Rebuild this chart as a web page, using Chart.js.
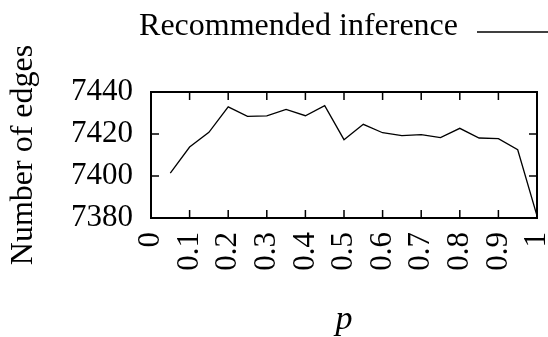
<!DOCTYPE html>
<html lang="en">
<head>
    <meta charset="UTF-8">
    <title>Recommended inference - edges vs p</title>
    <script src="https://cdn.jsdelivr.net/npm/chart.js"></script>
    <style>
        body {
            margin: 0;
            padding: 0;
            background-color: #fff;
        }
        #chartBox {
            width: 548px;
            height: 337px;
        }
    </style>
</head>
<body>
    <div id="chartBox">
        <canvas id="edgesChart" width="548" height="337"></canvas>
    </div>

    <script>
        // values
        const pValues = [0.05, 0.1, 0.15, 0.2, 0.25, 0.3, 0.35, 0.4, 0.45, 0.5,
                         0.55, 0.6, 0.65, 0.7, 0.75, 0.8, 0.85, 0.9, 0.95, 1.0];
        const edgeCounts = [7401.4, 7413.8, 7420.8, 7432.9, 7428.4, 7428.6, 7431.7, 7428.7, 7433.5, 7417.3,
                            7424.6, 7420.6, 7419.2, 7419.7, 7418.3, 7422.7, 7418.1, 7417.8, 7412.5, 7381];
        const xTickLabels = ['0', '0.1', '0.2', '0.3', '0.4', '0.5', '0.6', '0.7', '0.8', '0.9', '1'];
        const yTickLabels = ['7380', '7400', '7420', '7440'];
        const seriesName = 'Recommended inference';

        const serif = "'Liberation Serif', 'DejaVu Serif', serif";

        // gnuplot-style frame with inward ticks on all four sides, plus the key
        const framePlugin = {
            id: 'frame',
            afterDraw(chart) {
                const ctx = chart.ctx;
                const a = chart.chartArea;
                const xs = chart.scales.x;
                const ys = chart.scales.y;
                ctx.save();
                ctx.strokeStyle = '#000';
                ctx.lineWidth = 2;
                ctx.strokeRect(a.left, a.top, a.right - a.left, a.bottom - a.top);
                ctx.lineWidth = 1.5;
                ctx.beginPath();
                xs.ticks.forEach(t => {
                    const px = xs.getPixelForValue(t.value);
                    ctx.moveTo(px, a.bottom); ctx.lineTo(px, a.bottom - 8);
                    ctx.moveTo(px, a.top); ctx.lineTo(px, a.top + 8);
                });
                ys.ticks.forEach(t => {
                    const py = ys.getPixelForValue(t.value);
                    ctx.moveTo(a.left, py); ctx.lineTo(a.left + 8, py);
                    ctx.moveTo(a.right, py); ctx.lineTo(a.right - 8, py);
                });
                ctx.stroke();

                // key: text then line sample
                ctx.fillStyle = '#000';
                ctx.font = '32px ' + serif;
                ctx.textAlign = 'right';
                ctx.textBaseline = 'alphabetic';
                ctx.fillText(seriesName, 458, 35);
                ctx.lineWidth = 1.3;
                ctx.beginPath();
                ctx.moveTo(477, 32);
                ctx.lineTo(548, 32);
                ctx.stroke();
                ctx.restore();
            }
        };

        const ctx = document.getElementById('edgesChart').getContext('2d');
        new Chart(ctx, {
            type: 'line',
            data: {
                datasets: [{
                    label: seriesName,
                    data: pValues.map((p, i) => ({ x: p, y: edgeCounts[i] })),
                    borderColor: '#000',
                    borderWidth: 1.3,
                    pointRadius: 0,
                    tension: 0,
                    fill: false
                }]
            },
            options: {
                responsive: false,
                animation: false,
                devicePixelRatio: 1,
                layout: {
                    padding: { top: 92, right: 11, left: 0, bottom: 0 }
                },
                plugins: {
                    legend: { display: false },
                    tooltip: { enabled: false }
                },
                scales: {
                    x: {
                        type: 'linear',
                        min: 0,
                        max: 1,
                        grid: { display: false, drawTicks: false },
                        border: { display: false },
                        ticks: {
                            stepSize: 0.1,
                            autoSkip: false,
                            minRotation: 90,
                            maxRotation: 90,
                            padding: 14,
                            color: '#000',
                            font: { family: serif, size: 31 },
                            callback: (v, i) => xTickLabels[i]
                        },
                        title: {
                            display: true,
                            text: 'p',
                            color: '#000',
                            padding: 0,
                            font: { family: serif, size: 34, style: 'italic', lineHeight: 1.0 }
                        },
                        afterFit(scale) {
                            scale.height = 119;
                            scale.paddingLeft = 0;
                            scale.paddingRight = 0;
                        }
                    },
                    y: {
                        min: 7380,
                        max: 7440,
                        grid: { display: false, drawTicks: false },
                        border: { display: false },
                        ticks: {
                            stepSize: 20,
                            padding: 18,
                            color: '#000',
                            font: { family: serif, size: 31 },
                            callback: (v, i) => yTickLabels[i]
                        },
                        title: {
                            display: true,
                            text: 'Number of edges',
                            color: '#000',
                            padding: { top: 4, bottom: 0 },
                            font: { family: serif, size: 32, lineHeight: 1.2 }
                        },
                        afterFit(scale) {
                            scale.width = 151;
                            scale.paddingTop = 0;
                            scale.paddingBottom = 0;
                        }
                    }
                }
            },
            plugins: [framePlugin]
        });
    </script>
</body>
</html>
